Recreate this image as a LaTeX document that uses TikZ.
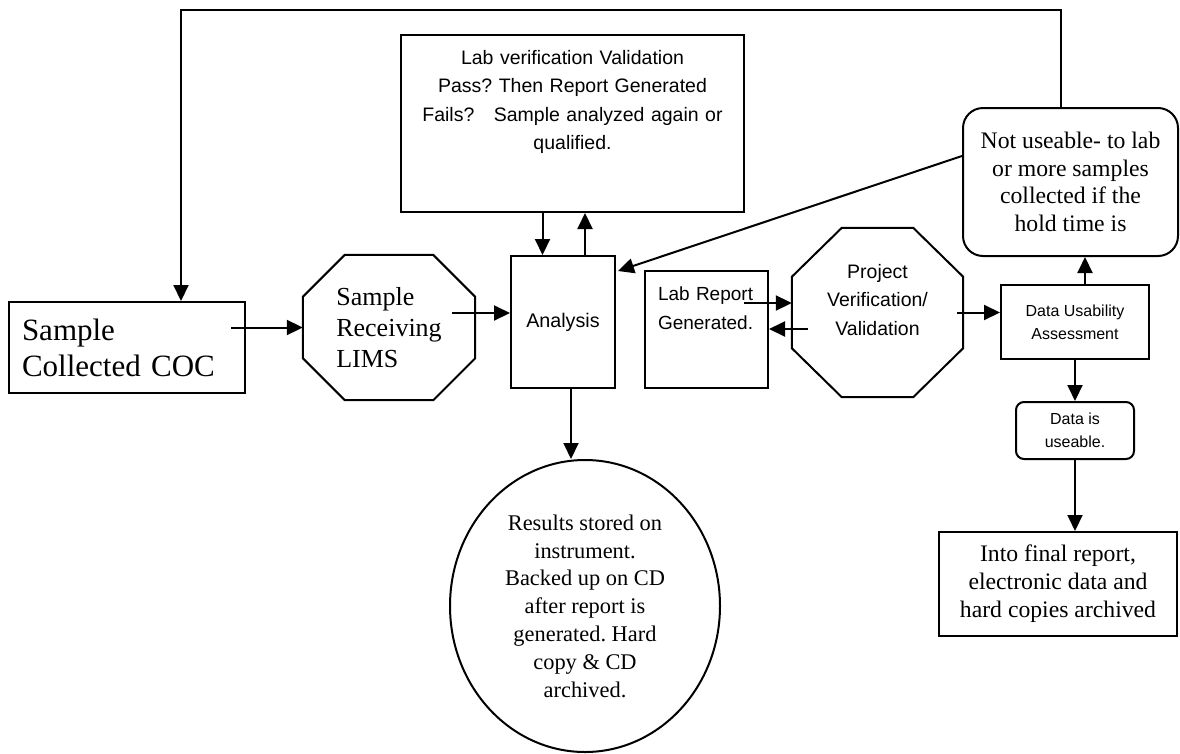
\documentclass[tikz,border=0pt]{standalone}
\usepackage{fontspec}
\setmainfont{Liberation Serif}
\setsansfont{Liberation Sans}
\usepackage{tikz}
\usetikzlibrary{shapes.geometric, arrows.meta, calc}
\frenchspacing

\begin{document}
\begin{tikzpicture}[x=1pt, y=-1pt,
  box/.style={draw, line width=2pt, rectangle, inner sep=0pt},
  roundbox/.style={box, rounded corners=#1},
  octbox/.style={rectangle, inner sep=0pt},
  octline/.style={line width=2pt, line join=miter},
  flow/.style={line width=2pt, -{Triangle[length=16pt,width=15pt]}}]
  \useasboundingbox (0,0) rectangle (1180,753);

  % Sample side
  \node[box, minimum width=236pt, minimum height=91pt, text width=210pt, align=left,
        font=\fontsize{31}{36}\selectfont] (coc) at (127,347.5) {Sample\\Collected COC};
  \node[octbox, minimum width=172pt, minimum height=145pt, align=left,
        font=\fontsize{26}{31}\selectfont] (recv) at (389,327.5) {Sample\\Receiving\\LIMS};
  \draw[octline] ($(recv.north west)+(42,0)$) -- ($(recv.north east)+(-42,0)$)
    -- ($(recv.north east)+(0,42)$) -- ($(recv.south east)+(0,-42)$)
    -- ($(recv.south east)+(-42,0)$) -- ($(recv.south west)+(42,0)$)
    -- ($(recv.south west)+(0,-42)$) -- ($(recv.north west)+(0,42)$) -- cycle;

  % Lab
  \node[box, minimum width=104pt, minimum height=132pt,
        font=\sffamily\fontsize{19.7}{23}\selectfont] (analysis) at (563,322) {Analysis};
  \node[box, minimum width=343pt, minimum height=177pt, text width=343pt, align=center,
        text height=29pt, text depth=148pt,
        font=\sffamily\fontsize{19.5}{28.5}\selectfont] (labver) at (572.5,123.5)
        {Lab verification Validation\\Pass? Then Report Generated\\Fails?\ \ \ Sample analyzed again or\\qualified.};
  \node[box, minimum width=123pt, minimum height=117pt, text width=97pt, align=left,
        text height=29pt, text depth=88pt,
        font=\sffamily\fontsize{19}{29}\selectfont] (labrep) at (706.5,329.5) {Lab Report\\Generated.};
  \node[draw, line width=2pt, ellipse, inner sep=0pt, minimum width=270pt, minimum height=292pt,
        align=center, font=\fontsize{22.4}{27.8}\selectfont] (results) at (585,606)
        {Results stored on\\instrument.\\Backed up on CD\\after report is\\generated. Hard\\copy \& CD\\archived.};

  % Project side
  \node[octbox, minimum width=171pt, minimum height=169pt, text width=150pt, align=center,
        text height=50pt, text depth=119pt,
        font=\sffamily\fontsize{19.5}{28.5}\selectfont] (projver) at (877.5,312.5) {Project\\Verification/\\Validation};
  \draw[octline] ($(projver.north west)+(50,0)$) -- ($(projver.north east)+(-50,0)$)
    -- ($(projver.north east)+(0,49)$) -- ($(projver.south east)+(0,-49)$)
    -- ($(projver.south east)+(-50,0)$) -- ($(projver.south west)+(50,0)$)
    -- ($(projver.south west)+(0,-49)$) -- ($(projver.north west)+(0,49)$) -- cycle;
  \node[box, minimum width=148pt, minimum height=74pt, align=center,
        font=\sffamily\fontsize{16}{23}\selectfont] (datause) at (1075,322) {Data Usability\\Assessment};
  \node[roundbox=20pt, minimum width=215pt, minimum height=148pt, align=center,
        font=\fontsize{23.7}{27.5}\selectfont] (notuse) at (1070.5,182)
        {Not useable- to lab\\or more samples\\collected if the\\hold time is};
  \node[roundbox=8pt, minimum width=118pt, minimum height=57pt, align=center,
        font=\sffamily\fontsize{16}{23}\selectfont] (dataok) at (1075,430.5) {Data is\\useable.};
  \node[box, minimum width=238pt, minimum height=104pt, align=center,
        font=\fontsize{23.7}{28}\selectfont] (final) at (1058,584)
        {Into final report,\\electronic data and\\hard copies archived};

  % Main flow
  \draw[flow] ($(coc.east)+(-15,-20)$) coordinate (a1) -- (a1 -| recv.west);
  \draw[flow] ($(recv.east)+(-23,-14.5)$) coordinate (a2) -- (a2 -| analysis.west);
  \draw[flow] ($(labver.south)+(-30,0)$) coordinate (a3) -- (a3 |- analysis.north);
  \draw[flow] ($(analysis.north)+(22,0)$) coordinate (a4) -- (a4 |- labver.south);
  \draw[flow] ($(analysis.south)+(8,0)$) coordinate (a5) -- (a5 |- results.north);
  \draw[flow] ($(labrep.east)+(-25,-26.5)$) coordinate (a6) -- (a6 -| projver.west);
  \draw[flow] ($(projver.west)+(16,16.5)$) coordinate (a7) -- (a7 -| labrep.east);
  \draw[flow] ($(projver.east)+(-6,0)$) coordinate (a8) -- (a8 -| datause.west);
  \draw[flow] ($(datause.north)+(10,0)$) coordinate (a9) -- (a9 |- notuse.south);
  \draw[flow] (datause.south) -- (dataok.north);
  \draw[flow] (dataok.south) -- (dataok.south |- final.north);

  % Back to the lab / to sampling
  \draw[flow] ($(notuse.west)+(0,-26)$) -- ($(analysis.north east)+(2,16)$);
  \coordinate (loopR) at (1061,10);
  \coordinate (loopL) at (181,10);
  \draw[flow] (loopR |- notuse.north) -- (loopR) -- (loopL) -- (loopL |- coc.north);
\end{tikzpicture}
\end{document}
